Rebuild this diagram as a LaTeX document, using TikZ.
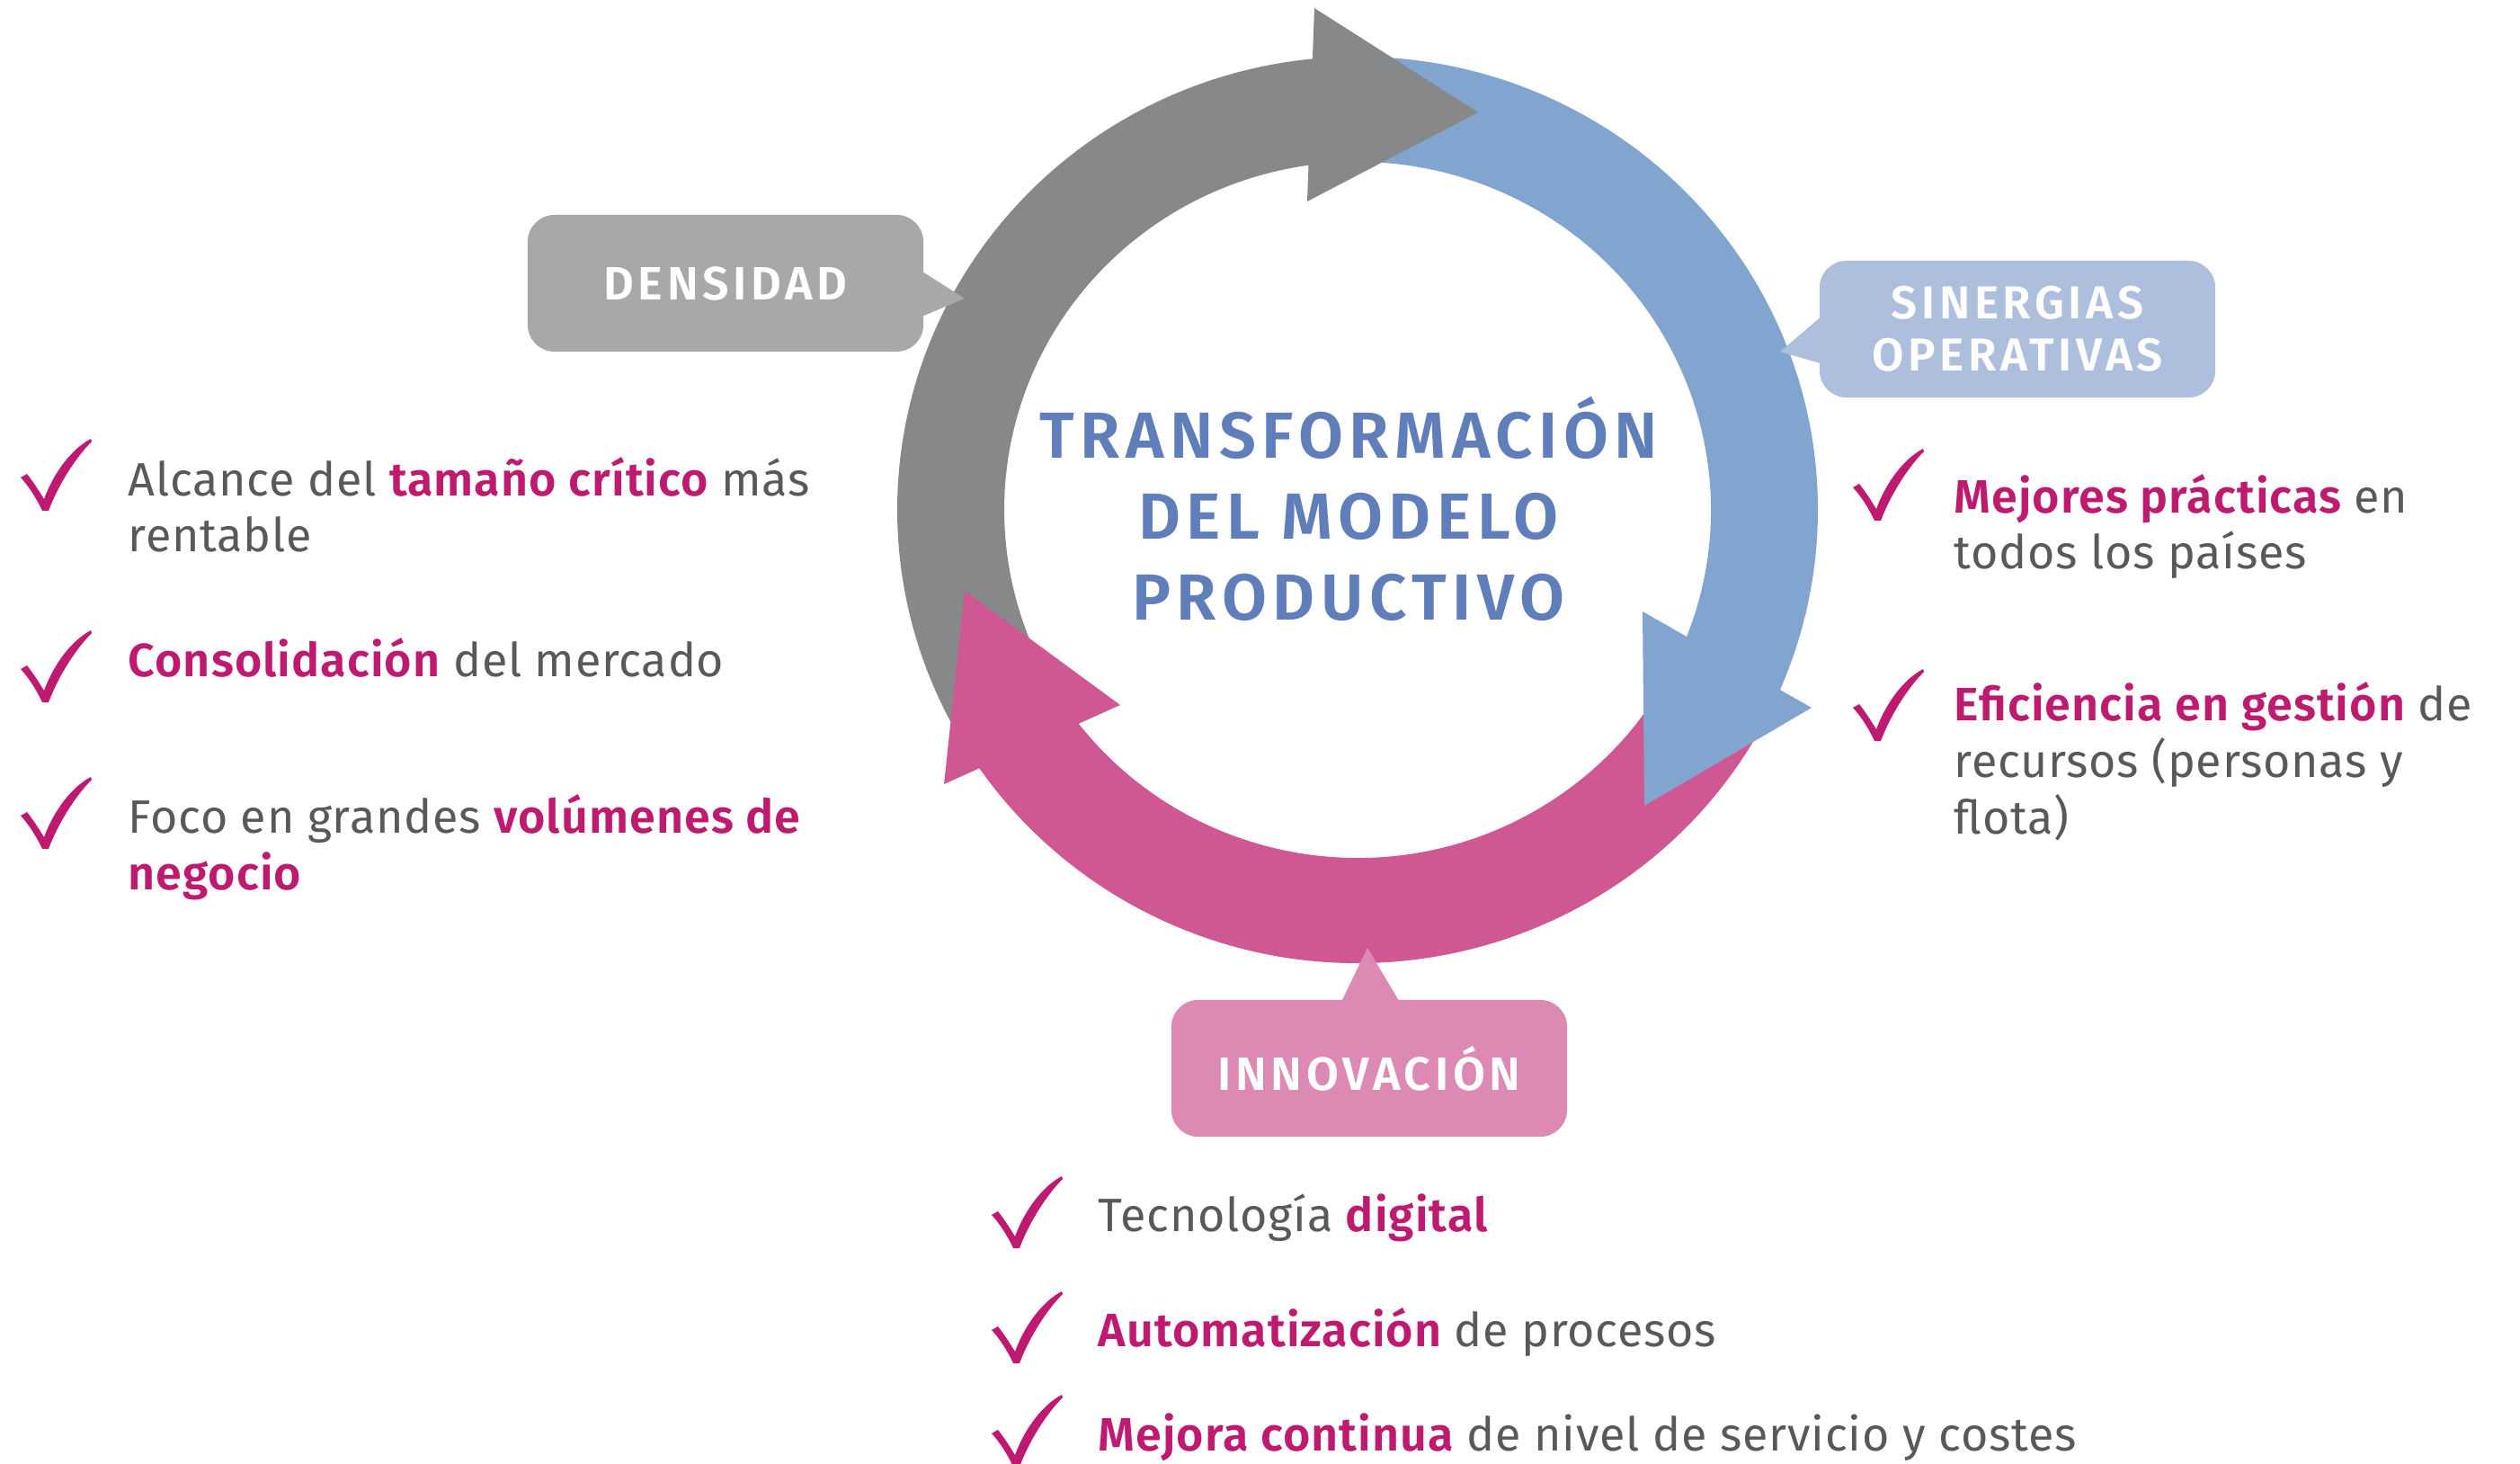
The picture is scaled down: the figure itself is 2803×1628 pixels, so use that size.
\documentclass[tikz,border=0pt]{standalone}
\usepackage{fontspec}
\setmainfont{Fira Sans}[LetterSpace=1.5]
\newfontfamily\hlfont{Fira Sans SemiBold}[LetterSpace=2]
\newfontfamily\capsfont{Fira Sans SemiBold}[LetterSpace=9]
\usetikzlibrary{positioning}

\definecolor{ringgray}{HTML}{87888A}
\definecolor{ringblue}{HTML}{82A5CF}
\definecolor{ringpink}{HTML}{CF5892}
\definecolor{densgray}{HTML}{A7A8AA}
\definecolor{sinblue}{HTML}{AEBEDD}
\definecolor{innpink}{HTML}{DC89B3}
\definecolor{titleblue}{HTML}{5F7EBA}
\definecolor{checkmag}{HTML}{BE1A6F}
\definecolor{textgray}{HTML}{58595B}

\newcommand{\resalta}[1]{\textcolor{checkmag}{\hlfont #1}}

\tikzset{
    callout/.style={rounded corners=0.3cm, minimum width=4.4cm, minimum height=1.52cm,
        inner sep=0pt, text=white, align=center,
        font=\fontsize{14.8}{16.5}\selectfont\capsfont},
    item/.style={anchor=base west, align=left, inner sep=0pt, text=textgray,
        font=\fontsize{14.8}{17.9}\selectfont},
    chk/.pic={
        \fill[checkmag] (-27,36) -- (-20,40) .. controls (-12,30) and (-6,20) .. (-1,12)
            .. controls (10,42) and (30,68) .. (51,79) -- (52,76)
            .. controls (34,58) and (15,28) .. (4,-1) -- (-3,-1)
            .. controls (-10,14) and (-18,26) .. cycle;
    }
}

\begin{document}
\begin{tikzpicture}[x=0.01cm, y=0.01cm]
            \useasboundingbox (0,0) rectangle (2803,-1628);

            % Ring
            \begin{scope}[shift={(1510,-567)}]
                \fill[ringgray] (210:512 and 504) arc[start angle=210, end angle=95, x radius=512, y radius=504]
                    -- (95:393 and 387) arc[start angle=95, end angle=210, x radius=393, y radius=387] -- cycle;
                \fill[ringblue] (88:512 and 504) arc[start angle=88, end angle=-28, x radius=512, y radius=504]
                    -- (-28:393 and 387) arc[start angle=-28, end angle=88, x radius=393, y radius=387] -- cycle;
                \fill[ringpink] (-28:512 and 504) arc[start angle=-28, end angle=-150, x radius=512, y radius=504]
                    -- (-150:393 and 387) arc[start angle=-150, end angle=-28, x radius=393, y radius=387] -- cycle;
            \end{scope}

            % Arrow heads
            \fill[ringgray] (1462,-9) -- (1644,-125) -- (1454,-224) -- cycle;
            \fill[ringblue] (1827,-680) -- (2015,-787) -- (1829,-896) -- cycle;
            \fill[ringpink] (1073,-657) -- (1246,-784) -- (1050,-872) -- cycle;

            % Title
            \node[text=titleblue, align=center, font=\fontsize{20.6}{25.6}\selectfont\capsfont]
                (titulo) at (1500,-566) {TRANSFORMACIÓN\\DEL MODELO\\PRODUCTIVO};

            % Callouts
            \node[callout, fill=densgray] (dens) at (807,-315) {DENSIDAD};
            \coordinate (denstip) at (1073,-332);
            \fill[densgray] ([xshift=-0.05cm, yshift=0.15cm]dens.east) -- (denstip)
                -- ([xshift=-0.05cm, yshift=-0.38cm]dens.east) -- cycle;

            \node[callout, fill=sinblue, font=\fontsize{14.6}{16.5}\selectfont\capsfont] (siner) at (2244,-366) {SINERGIAS\\OPERATIVAS};
            \coordinate (sinertip) at (1980,-391);
            \fill[sinblue] ([xshift=0.05cm, yshift=0.16cm]siner.west) -- (sinertip)
                -- ([xshift=0.05cm, yshift=-0.39cm]siner.west) -- cycle;

            \node[callout, fill=innpink] (innov) at (1523,-1188) {INNOVACIÓN};
            \coordinate (innovtip) at (1521,-1054);
            \fill[innpink] ([xshift=-0.32cm, yshift=-0.05cm]innov.north) -- (innovtip)
                -- ([xshift=0.35cm, yshift=-0.05cm]innov.north) -- cycle;

            % Density list (base = last line)
            \node[item] (alcance) at (142,-614) {Alcance del \resalta{tamaño crítico} más\\rentable};
            \node[item] (consol) at (142,-752) {\resalta{Consolidación} del mercado};
            \node[item] (foco) at (142,-989) {Foco en grandes \resalta{volúmenes de}\\\resalta{negocio}};
            \pic at (50,-567) {chk};
            \pic at (50,-780) {chk};
            \pic at (50,-943) {chk};

            % Synergies list
            \node[item] (mejores) at (2173,-633) {\resalta{Mejores prácticas} en\\todos los países};
            \node[item] (eficiencia) at (2173,-927) {\resalta{Eficiencia en gestión} de\\recursos (personas y\\flota)};
            \pic at (2088,-578) {chk};
            \pic at (2088,-823) {chk};

            % Innovation list
            \node[item] (tecno) at (1221,-1369) {Tecnología \resalta{digital}};
            \node[item] (automat) at (1221,-1497) {\resalta{Automatización} de procesos};
            \node[item] (mejora) at (1221,-1613) {\resalta{Mejora continua} de nivel de servicio y costes};
            \pic at (1130,-1387) {chk};
            \pic at (1130,-1515) {chk};
            \pic at (1130,-1630) {chk};

\end{tikzpicture}
\end{document}
